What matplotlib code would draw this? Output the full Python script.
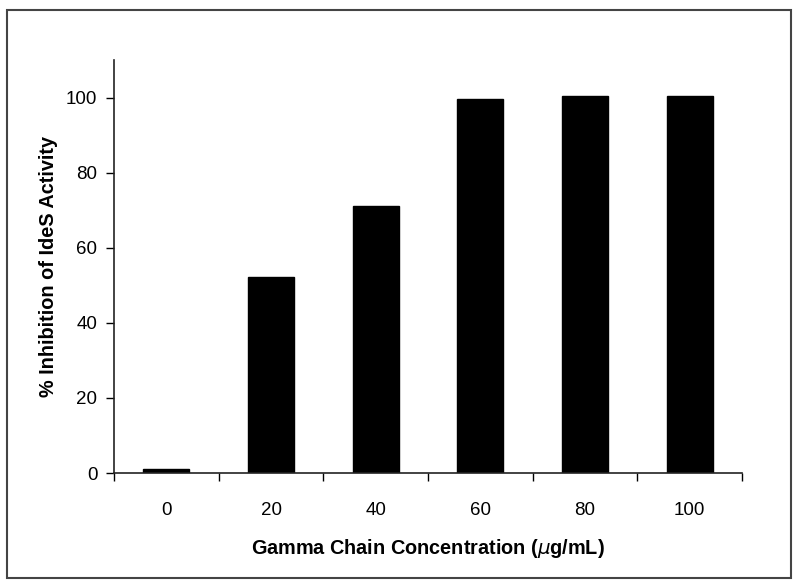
import matplotlib
matplotlib.use("Agg")
import matplotlib.pyplot as plt
from matplotlib.patches import Rectangle

categories = ["0", "20", "40", "60", "80", "100"]
values = [1.1, 52.3, 71.2, 99.7, 100.5, 100.5]
yticks = [0, 20, 40, 60, 80, 100]

plt.rcParams['font.family'] = ['Liberation Sans', 'DejaVu Sans']

fig = plt.figure(figsize=(8, 5.86), dpi=100)
W, H = 800, 586
ax = fig.add_axes([114/W, 1-473/H, (742-114)/W, (473-60)/H])

x = list(range(len(categories)))
ax.bar(x, values, width=0.44, color='black', edgecolor='black')
ax.set_xlim(-0.5, len(categories) - 0.5)
ax.set_ylim(0, 110)
ax.set_yticks(yticks)
ax.set_yticklabels([str(t) for t in yticks])
ax.set_xticks(x)
ax.set_xticklabels(categories)
ax.tick_params(axis='x', length=0, pad=21, labelsize=13.5)
ax.set_xticks([i - 0.5 for i in range(len(categories) + 1)], minor=True)
ax.tick_params(axis='x', which='minor', length=6, width=1, direction='out')
ax.tick_params(axis='y', length=6, width=1, direction='out', labelsize=13.5, pad=6)
for s in ['top', 'right']:
    ax.spines[s].set_visible(False)
for s in ['left', 'bottom']:
    ax.spines[s].set_linewidth(1.2)
    ax.spines[s].set_color('#222222')

ax.set_xlabel("Gamma Chain Concentration ($\\mu$g/mL)", fontsize=14.3, fontweight='bold', labelpad=13)
ax.set_ylabel("% Inhibition of IdeS Activity", fontsize=14.3, fontweight='bold', labelpad=6)

fig.patches.append(Rectangle((7/W, 1-578/H), (791-7)/W, (578-10)/H, transform=fig.transFigure,
                             fill=False, edgecolor='#444444', linewidth=1.5))

fig.savefig("out.png", dpi=100)
